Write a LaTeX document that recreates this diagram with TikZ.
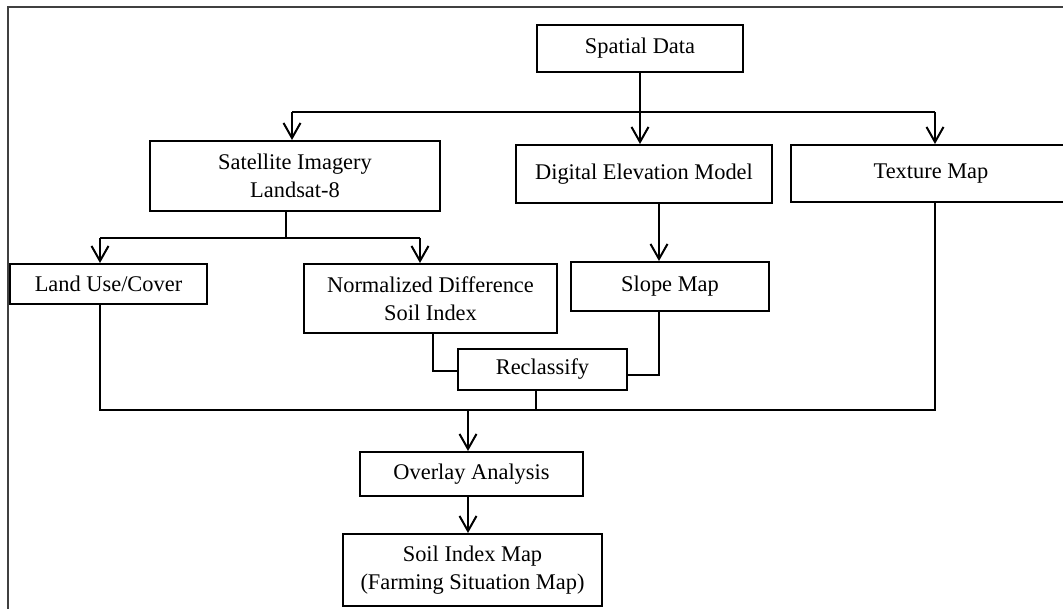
\documentclass[tikz,border=0pt]{standalone}
\usepackage{fontspec}
\setmainfont{Liberation Serif}
\usetikzlibrary{arrows.meta}
\begin{document}
\begin{tikzpicture}[x=1pt,y=-1pt,
  box/.style={draw=black,line width=2pt,fill=white,inner sep=0pt,align=center,font=\fontsize{22.4}{28.5}\selectfont},
  con/.style={draw=black,line width=2pt},
  arr/.style={con,-{Straight Barb[length=15pt,width=17pt,line width=2pt]}}]
\useasboundingbox (0,0) rectangle (1063,609);
\draw[line width=1.5pt,black!75] (8,609) -- (8,7) -- (1063,7);
% nodes
\node[box,minimum width=206pt,minimum height=47pt] (sd) at (640,48.5) {Spatial Data};
\node[box,minimum width=290pt,minimum height=70pt] (sat) at (295,176) {Satellite Imagery\\Landsat-8};
\node[box,minimum width=256pt,minimum height=58pt] (dem) at (644,174) {Digital Elevation Model};
\node[box,minimum width=280pt,minimum height=57pt] (tex) at (931,173.5) {Texture Map};
\node[box,minimum width=197pt,minimum height=40pt] (luc) at (108.5,284) {Land Use/Cover};
\node[box,minimum width=253pt,minimum height=69pt] (ndsi) at (430.5,298.5) {Normalized Difference\\Soil Index};
\node[box,minimum width=198pt,minimum height=49pt] (slope) at (670,286.5) {Slope Map};
\node[box,minimum width=169pt,minimum height=41pt] (recl) at (542.5,369.5) {Reclassify};
\node[box,minimum width=223pt,minimum height=44pt] (ov) at (471.5,474) {Overlay Analysis};
\node[box,minimum width=259pt,minimum height=72pt] (sim) at (472.5,570) {Soil Index Map\\(Farming Situation Map)};
% connectors: spatial data to the three sources
\coordinate (j1) at (640,112);
\coordinate (jl) at (292,112);
\coordinate (jr) at (935,112);
\draw[con] (sd.south) -- (j1);
\draw[con] (jl) -- (jr);
\draw[arr] (jl) -- (jl |- sat.north);
\draw[arr] (j1) -- (j1 |- dem.north);
\draw[arr] (jr) -- (jr |- tex.north);
% satellite to land use and NDSI
\coordinate (j2) at (286,238);
\coordinate (j2l) at (100,238);
\coordinate (j2r) at (420,238);
\draw[con] (j2 |- sat.south) -- (j2);
\draw[con] (j2l) -- (j2r);
\draw[arr] (j2l) -- (j2l |- luc.north);
\draw[arr] (j2r) -- (j2r |- ndsi.north);
% DEM to slope
\coordinate (c3) at (659,230);
\draw[arr] (c3 |- dem.south) -- (c3 |- slope.north);
% to reclassify
\coordinate (n1) at (433,371);
\draw[con] (n1 |- ndsi.south) -- (n1) -- (n1 -| recl.west);
\coordinate (s1) at (659,375);
\draw[con] (s1 |- slope.south) -- (s1) -- (s1 -| recl.east);
% bus
\coordinate (r1) at (536,410);
\coordinate (bl) at (100,410);
\coordinate (br) at (935,410);
\draw[con] (r1 |- recl.south) -- (r1);
\draw[con] (bl |- luc.south) -- (bl) -- (br) -- (br |- tex.south);
% overlay and result
\coordinate (o1) at (468,410);
\draw[arr] (o1) -- (o1 |- ov.north);
\draw[arr] (o1 |- ov.south) -- (o1 |- sim.north);
\end{tikzpicture}
\end{document}
